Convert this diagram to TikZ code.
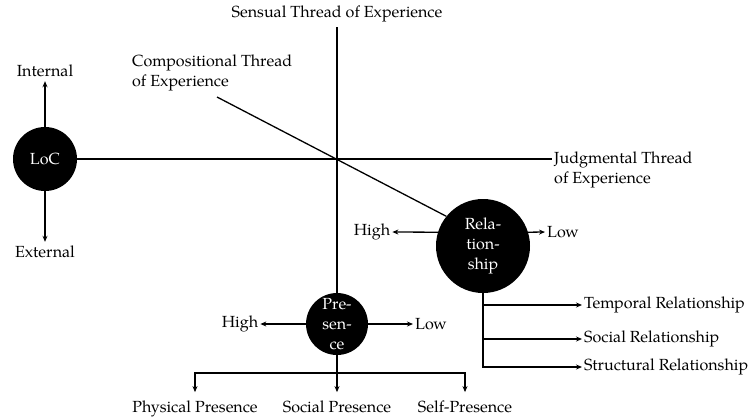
\documentclass[tikz,border=0pt]{standalone}
\usepackage{fontspec}
\setmainfont{TeX Gyre Pagella}
\usetikzlibrary{arrows.meta}
\begin{document}
\begin{tikzpicture}[x=1pt,y=-1pt,
  every node/.style={font=\fontsize{16.1}{19.8}\selectfont},
  blob/.style={circle,fill=black,text=white,inner sep=0pt,align=center},
  lbl/.style={inner sep=2pt,align=left},
  conn/.style={line width=1.3pt},
  arr/.style={line width=1.3pt,-{Stealth[length=6pt,width=5pt]}}]
\useasboundingbox (0,0) rectangle (754,416);
% circles
\node[blob,minimum size=64pt] (loc) at (45,159) {LoC};
\node[blob,minimum size=94pt] (rel) at (483,246) {Rela-\\tion-\\ship};
\node[blob,minimum size=62pt] (pres) at (337,324) {Pre-\\sen-\\ce};
% labels
\node[lbl] (internal) at (45,71) {Internal};
\node[lbl] (external) at (45,252) {External};
\node[lbl] (sensual) at (337,14) {Sensual Thread of Experience};
\node[lbl,anchor=west] (comp) at (130,73) {Compositional Thread\\of Experience};
\node[lbl,anchor=west] (judg) at (552,170) {Judgmental Thread\\of Experience};
\node[lbl] (relhigh) at (372,232) {High};
\node[lbl] (rellow) at (563,232) {Low};
\node[lbl] (preshigh) at (240,324) {High};
\node[lbl] (preslow) at (431,324) {Low};
\node[lbl,anchor=west] (temporal) at (582,305) {Temporal Relationship};
\node[lbl,anchor=west] (socialr) at (582,339) {Social Relationship};
\node[lbl,anchor=west] (structural) at (582,367) {Structural Relationship};
\node[lbl,anchor=base] (physical) at (195,412) {Physical Presence};
\node[lbl,anchor=base] (socialp) at (337,412) {Social Presence};
\node[lbl,anchor=base] (selfp) at (465,412) {Self-Presence};
% coordinates
\coordinate (cstart) at (217,97);
\coordinate (jn) at (337,373);
% LoC
\draw[arr] (loc.north) -- ([yshift=-2pt]internal.south);
\draw[arr] (loc.south) -- ([yshift=2pt]external.north);
\draw[conn] (loc.east) -- (loc.east -| judg.west);
% sensual vertical
\draw[conn] ([yshift=-3pt]sensual.south) -- (pres.north);
% compositional diagonal
\draw[conn] (cstart) -- (rel.141);
% relationship
\draw[arr] (rel.163) -- (relhigh.east);
\draw[arr] (rel.17) -- (rellow.west);
\draw[arr] (rel.south) |- (temporal.west);
\draw[arr] (rel.south) |- (socialr.west);
\draw[arr] (rel.south) |- (structural.west);
% presence
\draw[arr] (pres.west) -- (preshigh.east);
\draw[arr] (pres.east) -- (preslow.west);
\draw[conn] (pres.south) -- (jn);
\draw[arr] (jn) -| ([yshift=6pt]physical.north);
\draw[arr] (jn) -| ([yshift=6pt]selfp.north);
\draw[arr] (jn) -- ([yshift=6pt]socialp.north);
\end{tikzpicture}
\end{document}
